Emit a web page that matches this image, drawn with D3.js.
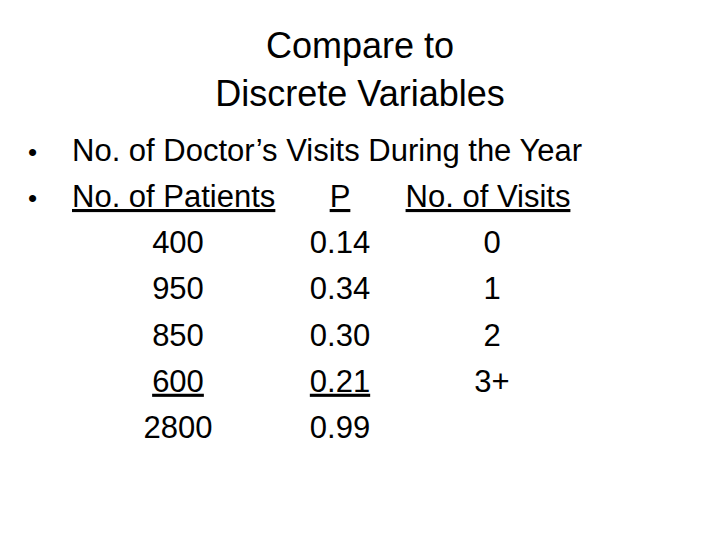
<!DOCTYPE html>
<html><head><meta charset="utf-8">
<script src="https://cdn.jsdelivr.net/npm/d3@7"></script>
<style>body{margin:0;background:#fff}text{font-family:"Liberation Sans",Arial,sans-serif;fill:#000}</style>
</head><body>
<script>
const titleLines = ["Compare to", "Discrete Variables"];
const bullets = ["No. of Doctor’s Visits During the Year"];
const headers = ["No. of Patients", "P", "No. of Visits"];
const patients = ["400", "950", "850", "600", "2800"];
const probs = ["0.14", "0.34", "0.30", "0.21", "0.99"];
const visits = ["0", "1", "2", "3+", ""];
const underlined = {"600": true, "0.21": true};

const svg = d3.select("body").append("svg").attr("width", 720).attr("height", 540);

svg.selectAll("text.title").data(titleLines).join("text")
  .attr("x", 360).attr("y", (d, i) => 58 + i * 48)
  .attr("text-anchor", "middle").attr("font-size", 36).text(d => d);

svg.append("text").attr("x", 28).attr("y", 161).attr("font-size", 26).text("•");
svg.append("text").attr("x", 72).attr("y", 161).attr("font-size", 31).text(bullets[0]);
svg.append("text").attr("x", 28).attr("y", 207).attr("font-size", 26).text("•");

const hx = [72, 340, 488];
svg.selectAll("text.h").data(headers).join("text")
  .attr("x", (d, i) => hx[i]).attr("y", 207).attr("font-size", 31)
  .attr("text-anchor", (d, i) => i === 0 ? "start" : "middle")
  .style("text-decoration", "underline").text(d => d);

const y = d3.scalePoint().domain(d3.range(patients.length)).range([253, 438]);
const cols = [[patients, 178], [probs, 340], [visits, 492]];
cols.forEach(([arr, cx]) => {
  svg.selectAll(null).data(arr).join("text")
    .attr("x", cx).attr("y", (d, i) => y(i)).attr("font-size", 31)
    .attr("text-anchor", "middle")
    .style("text-decoration", d => underlined[d] ? "underline" : null)
    .text(d => d);
});
</script>
</body></html>
